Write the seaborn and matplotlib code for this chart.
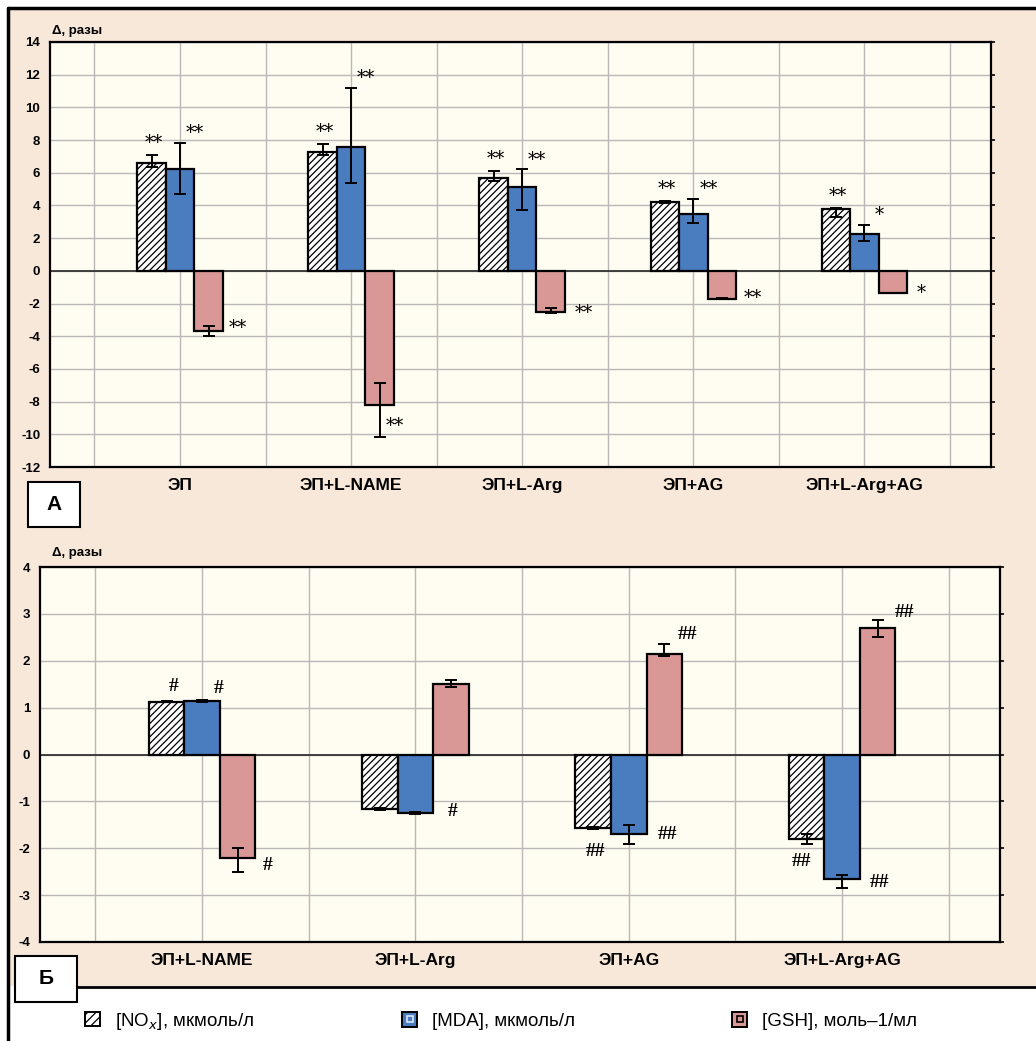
import numpy as np
import pandas as pd
import matplotlib
matplotlib.use('Agg')
import matplotlib.pyplot as plt
from matplotlib.patches import Rectangle
from matplotlib.lines import Line2D
from matplotlib.legend_handler import HandlerTuple
import seaborn as sns

sns.set_theme(style='white')
plt.rcParams['font.family'] = ['Liberation Sans', 'DejaVu Sans']
plt.rcParams['hatch.linewidth'] = 0.9
plt.rcParams['text.color'] = 'black'
plt.rcParams['xtick.color'] = 'black'
plt.rcParams['ytick.color'] = 'black'

# --- данные, панель А ---
groups_a = ['ЭП', 'ЭП+L-NAME', 'ЭП+L-Arg', 'ЭП+AG', 'ЭП+L-Arg+AG']
nox_a = [6.6, 7.3, 5.7, 4.2, 3.8]
nox_a_err = [(0.25, 0.5), (0.2, 0.45), (0.2, 0.4), (0.05, 0.05), (0.5, 0.05)]
mda_a = [6.2, 7.6, 5.1, 3.5, 2.25]
mda_a_err = [(1.5, 1.6), (2.2, 3.6), (1.4, 1.1), (0.6, 0.9), (0.4, 0.55)]
gsh_a = [-3.7, -8.2, -2.5, -1.7, -1.35]
gsh_a_err = [(0.3, 0.3), (1.95, 1.35), (0.05, 0.2), (0.03, 0.03), (0.02, 0.02)]
nox_a_sig = ['**', '**', '**', '**', '**']
mda_a_sig = ['**', '**', '**', '**', '*']
gsh_a_sig = ['**', '**', '**', '**', '*']

# --- данные, панель Б ---
groups_b = ['ЭП+L-NAME', 'ЭП+L-Arg', 'ЭП+AG', 'ЭП+L-Arg+AG']
nox_b = [1.13, -1.17, -1.57, -1.8]
nox_b_err = [(0.02, 0.02), (0.02, 0.02), (0.02, 0.02), (0.1, 0.1)]
mda_b = [1.15, -1.25, -1.7, -2.65]
mda_b_err = [(0.02, 0.02), (0.02, 0.02), (0.2, 0.2), (0.2, 0.08)]
gsh_b = [-2.2, 1.5, 2.15, 2.7]
gsh_b_err = [(0.3, 0.2), (0.05, 0.1), (0.05, 0.2), (0.2, 0.18)]
nox_b_sig = ['#', '', '##', '##']
mda_b_sig = ['#', '#', '##', '##']
gsh_b_sig = ['#', '', '##', '##']

series = ['[NO$_x$], мкмоль/л', '[MDA], мкмоль/л', '[GSH], моль\u20131/мл']

# offsets of significance marks (pixels, from bar centre / error end)
off_a = [[(2, 12)] * 5,
         [(15, 10)] * 5,
         [(29, 8), (15, 11), (33, 0), (31, 1), (28, 0)]]
off_b = [[(7, 14), (0, 0), (2, -22), (-5, -18)],
         [(16, 11), (37, 3), (39, 9), (37, 6)],
         [(30, 6), (0, 0), (23, 10), (27, 7)]]

c_blue = '#4a7cc0'
c_red = '#d99796'
c_peach = '#f8e8da'
c_axes = '#fffcf2'

fig = plt.figure(figsize=(10.36, 10.41), dpi=100)
fig.patch.set_facecolor('white')
fig.patches.append(Rectangle((10 / 1036, 1 - 986 / 1041), 1, 976 / 1041,
                             transform=fig.transFigure, facecolor=c_peach,
                             edgecolor='none', zorder=-10))
# рамки
fig.add_artist(plt.Line2D([8 / 1036, 1], [1 - 8 / 1041] * 2, color='black', lw=2.5))
fig.add_artist(plt.Line2D([8 / 1036] * 2, [0, 1 - 8 / 1041], color='black', lw=2.5))
fig.add_artist(plt.Line2D([77 / 1036, 1], [1 - 987 / 1041] * 2, color='black', lw=2))


def panel(ax, groups, vals, errs, sigs, offs, ylim, yticks):
    df = pd.DataFrame({
        'group': groups * 3,
        'series': sum([[s] * len(groups) for s in series], []),
        'value': sum(vals, []),
    })
    sns.barplot(data=df, x='group', y='value', hue='series', order=groups,
                hue_order=series, palette=['white', c_blue, c_red], width=0.5,
                saturation=1, errorbar=None, edgecolor='black', linewidth=1.6,
                ax=ax, legend=False, zorder=3)
    bars = list(ax.containers)
    for k, cont in enumerate(bars):
        for i, p in enumerate(cont.patches):
            if k == 0:
                p.set_hatch('/////')
            x = p.get_x() + p.get_width() / 2
            v = vals[k][i]
            lo, hi = errs[k][i]
            ax.errorbar(x, v, yerr=[[lo], [hi]], fmt='none', ecolor='black',
                        elinewidth=1.4, capsize=4.5, capthick=1.4, zorder=5)
            s = sigs[k][i]
            if s:
                yend = v + hi if v >= 0 else v - lo
                if '*' in s:
                    kw = dict(fontsize=13, family='DejaVu Serif')
                else:
                    kw = dict(fontsize=14, family='Liberation Serif', fontweight='bold')
                ax.annotate(s, (x, yend), xytext=offs[k][i],
                            textcoords='offset pixels', ha='center', va='center',
                            zorder=6, **kw)
    n = len(groups)
    ax.set_xlim(-0.76, n - 0.26)
    ax.set_ylim(*ylim)
    ax.set_yticks(yticks)
    xt = np.arange(-0.5, n, 0.5)
    ax.set_xticks(xt)
    ax.set_xticklabels([groups[int(t)] if t == int(t) and t >= 0 else '' for t in xt],
                       fontsize=12.5, fontweight='bold')
    ax.set_yticklabels([str(t) for t in yticks], fontsize=9.5, fontweight='bold')
    ax.set_xlabel('')
    ax.set_ylabel('')
    ax.set_facecolor(c_axes)
    ax.grid(True, color='#b8b8b8', lw=1.0, zorder=0)
    ax.set_axisbelow(True)
    ax.axhline(0, color='#333333', lw=1.3, zorder=2)
    for sp in ax.spines.values():
        sp.set_color('black')
        sp.set_linewidth(1.6)
    ax.tick_params(axis='y', left=False, right=True, direction='out', length=3,
                   width=1.2, color='black', pad=4)
    ax.tick_params(axis='x', bottom=False, pad=2)


ax1 = fig.add_axes([50 / 1036, 1 - 467 / 1041, 941 / 1036, 425 / 1041])
panel(ax1, groups_a, [nox_a, mda_a, gsh_a], [nox_a_err, mda_a_err, gsh_a_err],
      [nox_a_sig, mda_a_sig, gsh_a_sig], off_a, (-12, 14), list(range(-12, 15, 2)))

ax2 = fig.add_axes([40 / 1036, 1 - 942 / 1041, 960 / 1036, 375 / 1041])
panel(ax2, groups_b, [nox_b, mda_b, gsh_b], [nox_b_err, mda_b_err, gsh_b_err],
      [nox_b_sig, mda_b_sig, gsh_b_sig], off_b, (-4, 4), list(range(-4, 5)))

fig.text(52 / 1036, 1 - 31 / 1041, 'Δ, разы', fontsize=9.5, fontweight='bold', va='center')
fig.text(52 / 1036, 1 - 553 / 1041, 'Δ, разы', fontsize=9.5, fontweight='bold', va='center')

# метки панелей
for (x0, y0, x1, y1, lab) in [(28, 482, 80, 527, 'А'), (15, 956, 77, 1002, 'Б')]:
    fig.patches.append(Rectangle((x0 / 1036, 1 - y1 / 1041), (x1 - x0) / 1036,
                                 (y1 - y0) / 1041, transform=fig.transFigure,
                                 facecolor='white', edgecolor='black', lw=1.5, zorder=5))
    fig.text((x0 + x1) / 2 / 1036, 1 - (y0 + y1) / 2 / 1041, lab, fontsize=15,
             fontweight='bold', ha='center', va='center', zorder=6)

# легенда (значки как в Statistica: квадрат с маленьким квадратом внутри)
handles = [
    (Rectangle((0, 0), 1, 1, facecolor='white', edgecolor='black', hatch='////', lw=1.4),),
    (Rectangle((0, 0), 1, 1, facecolor=c_blue, edgecolor='black', lw=1.4),
     Line2D([], [], marker='s', ls='none', ms=4, mfc='none', mec='#dde6f5', mew=1.2)),
    (Rectangle((0, 0), 1, 1, facecolor=c_red, edgecolor='black', lw=1.4),
     Line2D([], [], marker='s', ls='none', ms=4, mfc='none', mec='black', mew=1.2)),
]
for h, lab, x in zip(handles, series, [85, 402, 732]):
    fig.legend(handles=[h], labels=[lab], loc='center left',
               bbox_to_anchor=(x / 1036, 1 - 1021 / 1041), frameon=False,
               handlelength=0.8, handleheight=0.8, handletextpad=0.8,
               borderpad=0, borderaxespad=0, fontsize=13.5,
               handler_map={tuple: HandlerTuple(ndivide=1, pad=0)})

fig.savefig('out.png', dpi=100, facecolor=fig.get_facecolor())
